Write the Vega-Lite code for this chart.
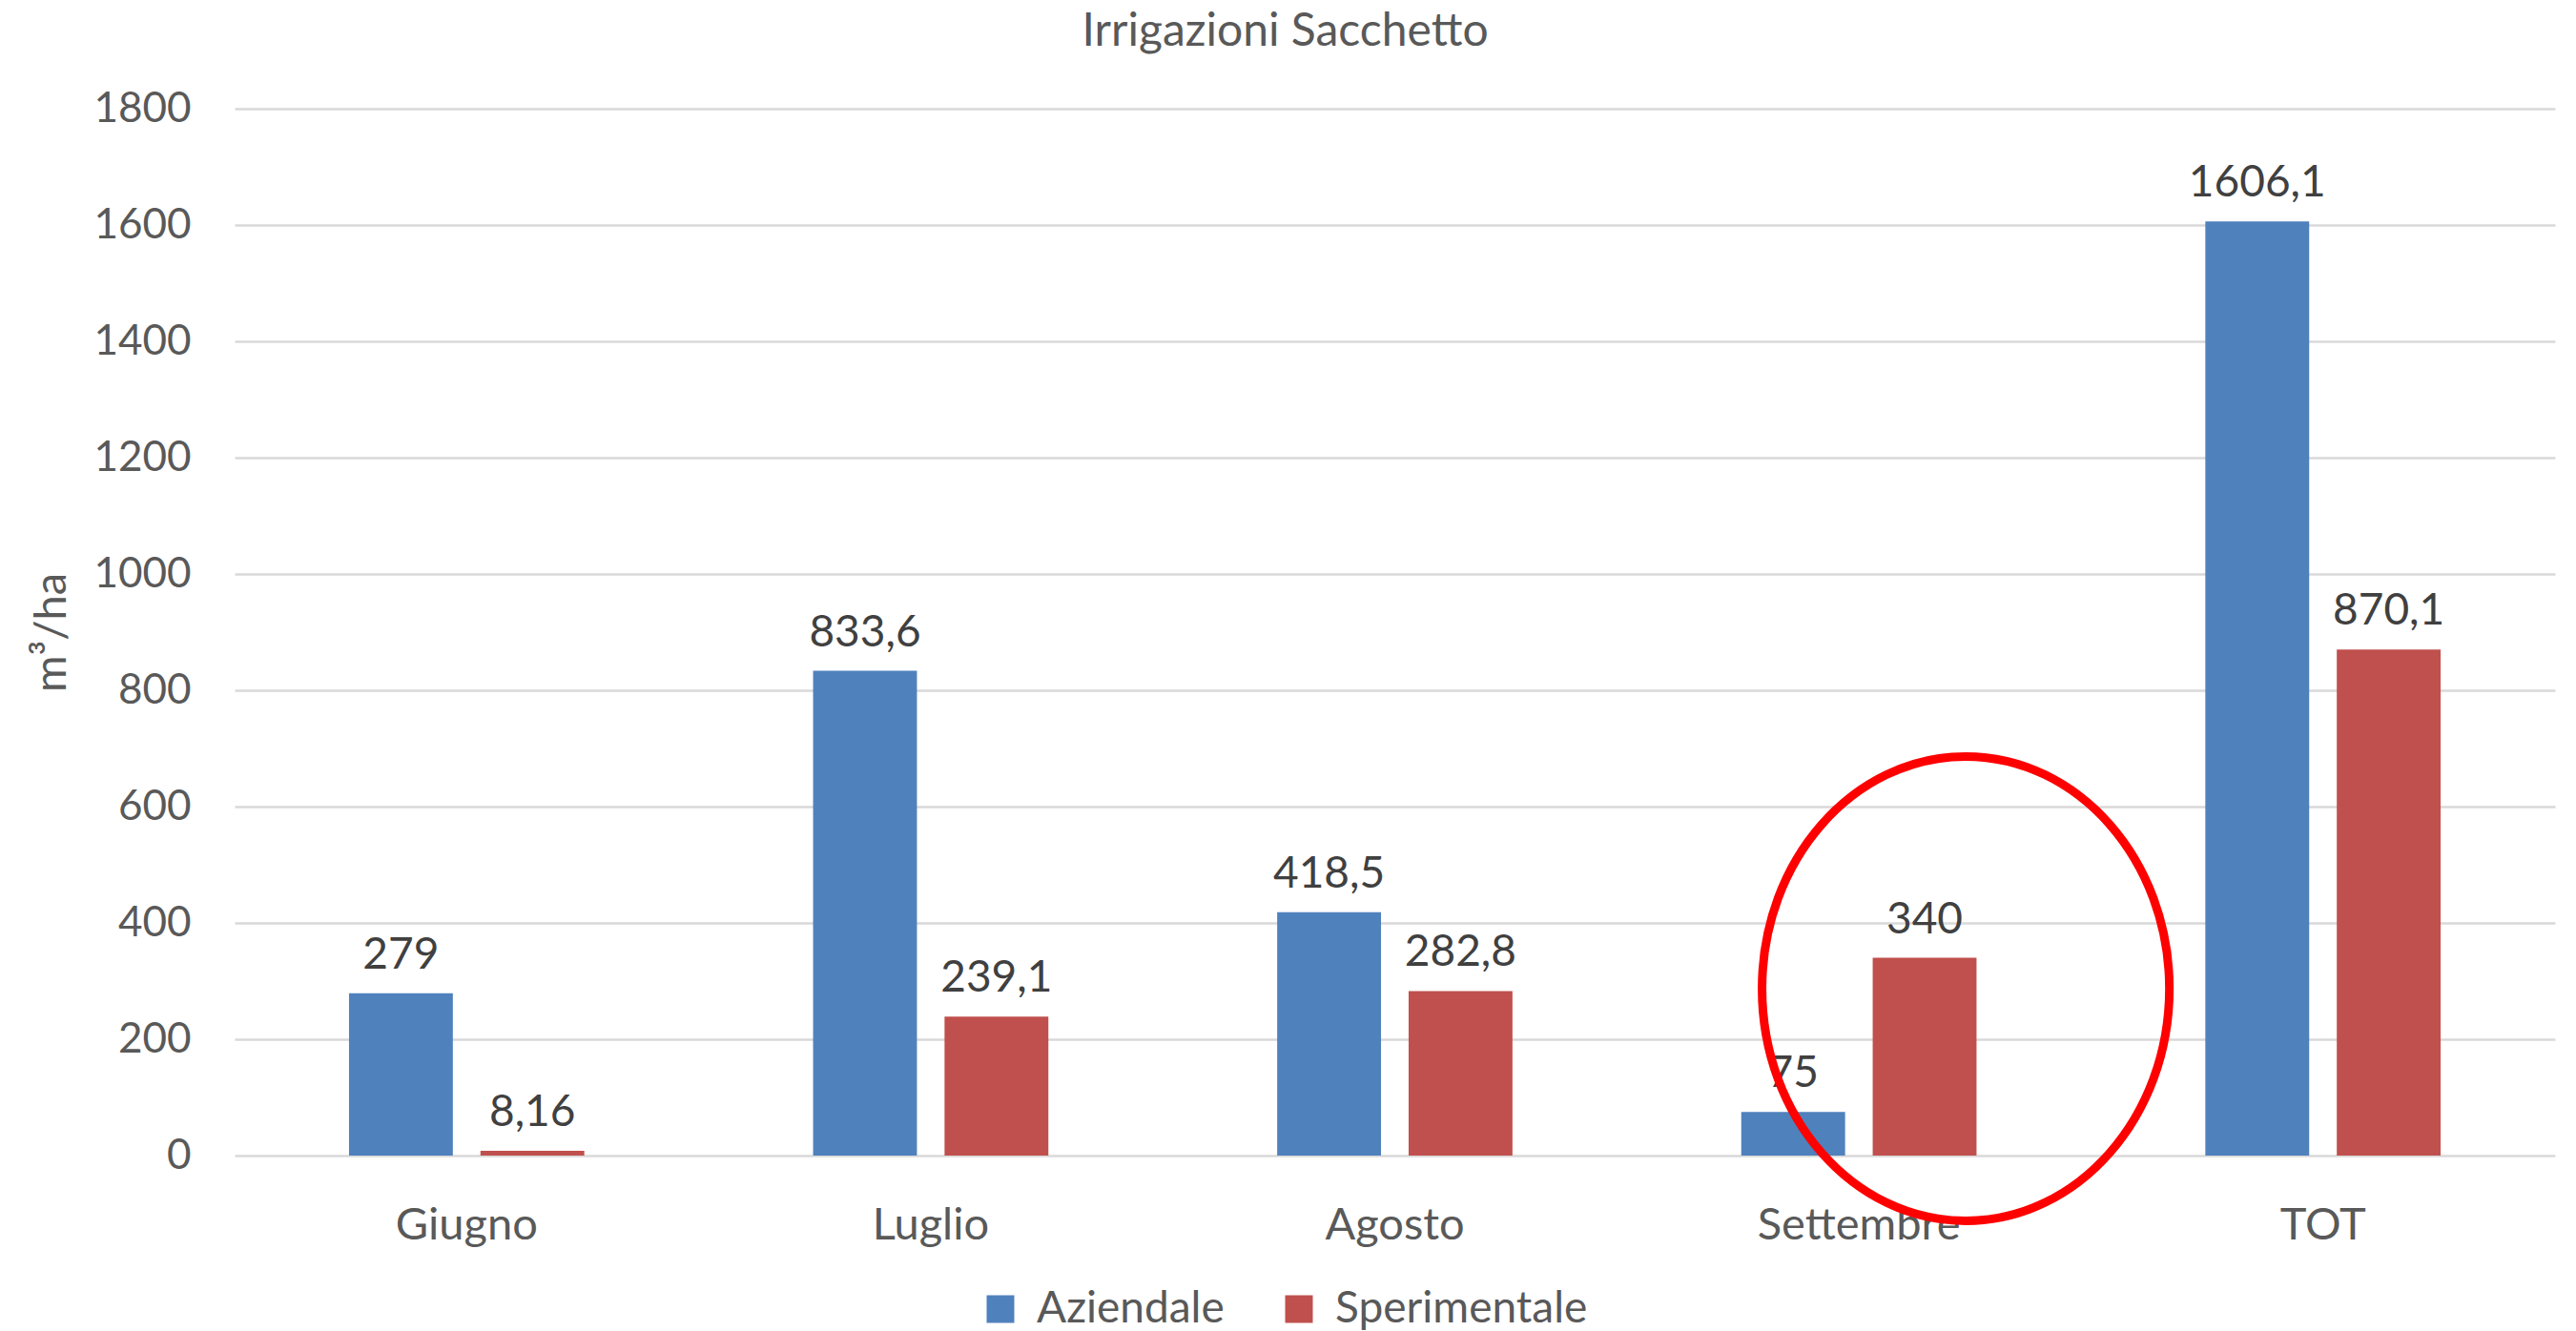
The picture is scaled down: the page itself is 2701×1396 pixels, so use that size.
{
  "$schema": "https://vega.github.io/schema/vega-lite/v6.json",
  "width": 2433,
  "height": 1098,
  "autosize": {"type": "none"},
  "padding": {"left": 246, "top": 114, "right": 22, "bottom": 184},
  "background": "white",
  "title": {"text": "Irrigazioni Sacchetto", "anchor": "middle", "dx": -115, "offset": -4, "baseline": "alphabetic", "fontSize": 48, "font": "Lato", "fontWeight": "normal", "color": "#595959"},
  "config": {
    "locale": {"number": {"decimal": ",", "thousands": ".", "grouping": [3], "currency": ["€", ""]}},
    "view": {"stroke": null},
    "axis": {"labelFont": "Lato", "titleFont": "Lato", "labelColor": "#595959", "titleColor": "#595959", "domain": false, "ticks": false, "gridColor": "#D9D9D9", "gridWidth": 2.5, "titleFontWeight": "normal", "labelLimit": 0},
    "legend": {"labelFont": "Lato", "labelColor": "#595959", "labelLimit": 0}
  },
  "datasets": {
    "bars": [
      {"month": "Giugno", "series": "Aziendale", "value": 279},
      {"month": "Giugno", "series": "Sperimentale", "value": 8.16},
      {"month": "Luglio", "series": "Aziendale", "value": 833.6},
      {"month": "Luglio", "series": "Sperimentale", "value": 239.1},
      {"month": "Agosto", "series": "Aziendale", "value": 418.5},
      {"month": "Agosto", "series": "Sperimentale", "value": 282.8},
      {"month": "Settembre", "series": "Aziendale", "value": 75},
      {"month": "Settembre", "series": "Sperimentale", "value": 340},
      {"month": "TOT", "series": "Aziendale", "value": 1606.1},
      {"month": "TOT", "series": "Sperimentale", "value": 870.1}
    ],
    "note": [{"month": "Settembre", "value": 287}]
  },
  "layer": [
    {
      "data": {"name": "bars"},
      "mark": {"type": "bar"},
      "encoding": {
        "x": {"field": "month", "type": "nominal", "scale": {"domain": ["Giugno", "Luglio", "Agosto", "Settembre", "TOT"], "paddingInner": 0.493, "paddingOuter": 0.2465}, "axis": {"title": null, "labelAngle": 0, "labelFontSize": 47, "labelPadding": 50, "grid": false, "labelLimit": 0}},
        "xOffset": {"field": "series", "type": "nominal", "scale": {"domain": ["Aziendale", "Sperimentale"], "paddingInner": 0.21, "paddingOuter": 0}},
        "y": {"field": "value", "type": "quantitative", "scale": {"domain": [0, 1800], "nice": false}, "axis": {"title": "m³/ha", "values": [0, 200, 400, 600, 800, 1000, 1200, 1400, 1600, 1800], "format": "d", "labelFontSize": 44, "labelPadding": 46, "titleFontSize": 47, "titlePadding": 19, "grid": true}},
        "color": {"field": "series", "type": "nominal", "scale": {"domain": ["Aziendale", "Sperimentale"], "range": ["#4F81BD", "#C0504D"]}, "legend": {"title": null, "orient": "none", "legendX": 780, "legendY": 1236, "direction": "horizontal", "symbolType": "square", "symbolSize": 841, "symbolStrokeWidth": 0, "symbolOpacity": 1, "labelFontSize": 46, "labelOffset": 15, "columnPadding": 55, "labelLimit": 0}}
      }
    },
    {
      "data": {"name": "bars"},
      "mark": {"type": "text", "baseline": "alphabetic", "dy": -26, "fontSize": 46, "font": "Lato", "color": "#404040"},
      "encoding": {
        "x": {"field": "month", "type": "nominal"},
        "xOffset": {"field": "series", "type": "nominal"},
        "y": {"field": "value", "type": "quantitative"},
        "text": {"field": "value", "type": "quantitative", "format": ".5~r"}
      }
    },
    {
      "data": {"name": "note"},
      "mark": {"type": "point", "shape": "M -0.417 0 A 0.877 1 0 1 1 1.337 0 A 0.877 1 0 1 1 -0.417 0 Z", "size": 237169, "filled": false, "fill": null, "stroke": "#FF0000", "strokeWidth": 9, "opacity": 1},
      "encoding": {
        "x": {"field": "month", "type": "nominal"},
        "y": {"field": "value", "type": "quantitative"}
      }
    }
  ]
}
